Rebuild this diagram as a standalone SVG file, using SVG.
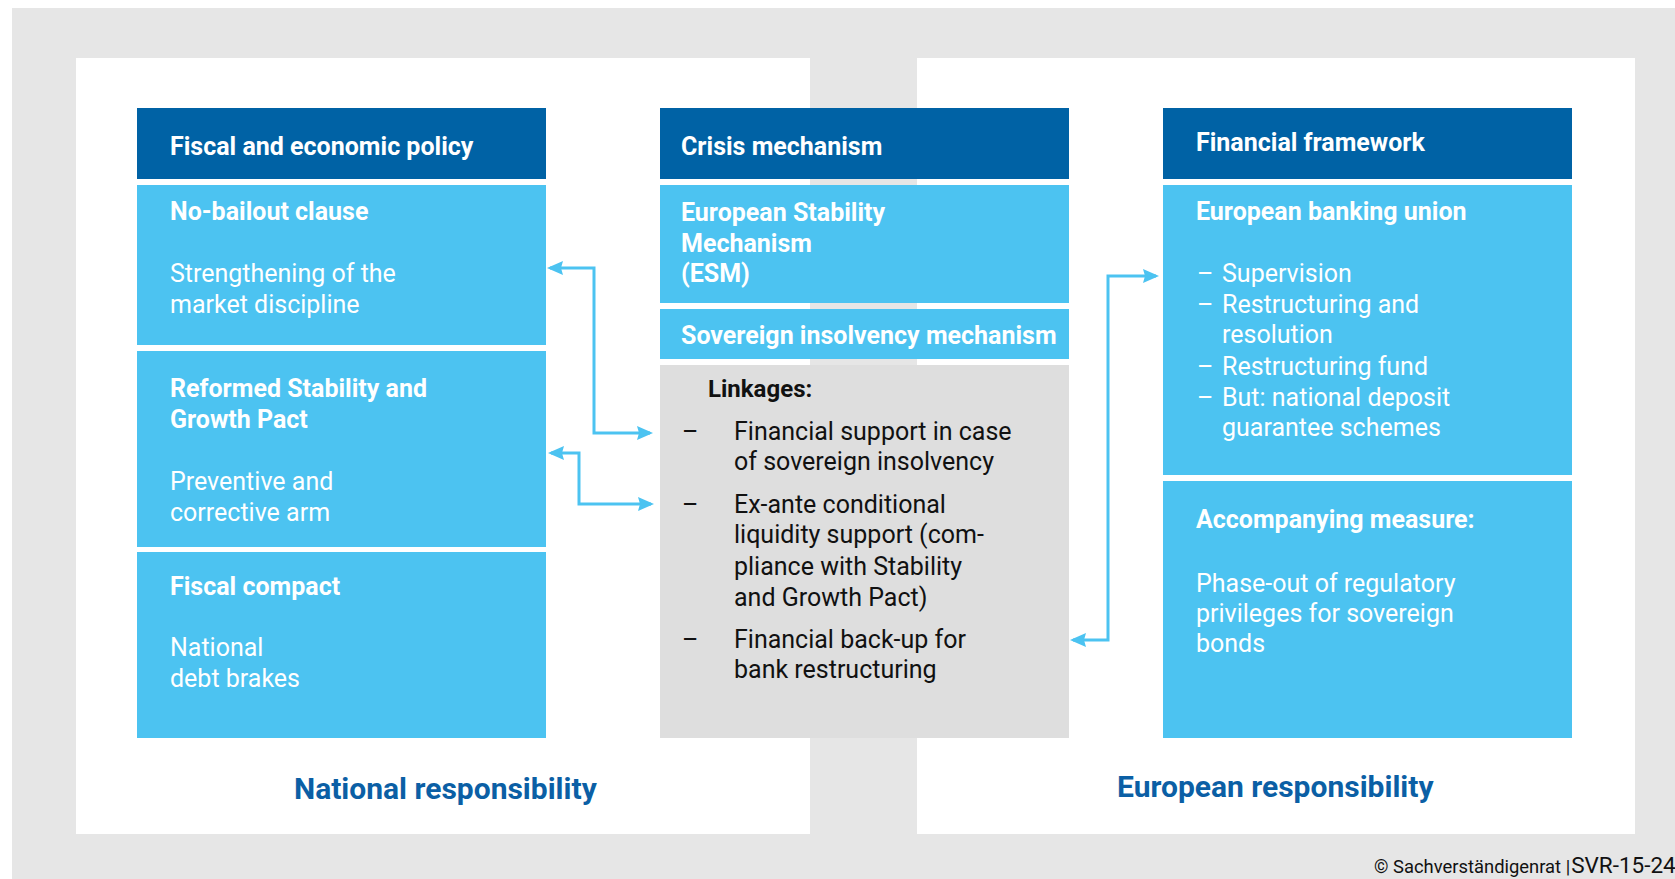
<svg xmlns="http://www.w3.org/2000/svg" width="1675" height="879" viewBox="0 0 1675 879">
  <defs>
    <style>
      .bg { fill: #e6e6e6; }
      .panel { fill: #ffffff; }
      .head { fill: #0062a5; }
      .cell { fill: #4cc3f1; }
      .grey { fill: #dedede; }
      text { font-family: Roboto, "Liberation Sans", sans-serif; }
      .ht { font-size: 25px; font-weight: 700; fill: #ffffff; }
      .st { font-size: 25px; font-weight: 700; fill: #ffffff; }
      .bt { font-size: 25px; font-weight: 400; fill: #ffffff; }
      .lk { font-size: 24px; font-weight: 700; fill: #111111; }
      .dk { font-size: 25px; font-weight: 400; fill: #111111; }
      .resp { font-size: 30px; font-weight: 700; fill: #0b5fa5; }
      .copy { font-size: 18.4px; fill: #111111; }
      .copy2 { font-size: 22.5px; fill: #111111; }
      .link { fill: none; stroke: #4cc3f1; stroke-width: 3; }
    </style>
    <marker id="tip" viewBox="0 0 16 14" markerUnits="userSpaceOnUse" markerWidth="16" markerHeight="14" refX="13" refY="7" orient="auto-start-reverse">
      <path d="M0,0 L16,7 L0,14 L2,7 z" fill="#4cc3f1"/>
    </marker>
  </defs>

  <!-- backdrop and the two responsibility panels -->
  <rect class="bg" x="12" y="8" width="1663" height="871"/>
  <rect class="panel" x="76" y="58" width="734" height="776"/>
  <rect class="panel" x="917" y="58" width="718" height="776"/>

  <!-- national column -->
  <g id="fiscal-policy">
    <rect class="head" x="137" y="108" width="409" height="71"/>
    <text class="ht" x="170" y="155">Fiscal and economic policy</text>
  </g>
  <g id="no-bailout">
    <rect class="cell" x="137" y="185" width="409" height="160"/>
    <text class="st" x="170" y="220">No-bailout clause</text>
    <text class="bt" x="170" y="282">Strengthening of the</text>
    <text class="bt" x="170" y="313">market discipline</text>
  </g>
  <g id="stability-pact">
    <rect class="cell" x="137" y="351" width="409" height="196"/>
    <text class="st" x="170" y="397">Reformed Stability and</text>
    <text class="st" x="170" y="428">Growth Pact</text>
    <text class="bt" x="170" y="490">Preventive and</text>
    <text class="bt" x="170" y="521">corrective arm</text>
  </g>
  <g id="fiscal-compact">
    <rect class="cell" x="137" y="552" width="409" height="186"/>
    <text class="st" x="170" y="595">Fiscal compact</text>
    <text class="bt" x="170" y="656">National</text>
    <text class="bt" x="170" y="687">debt brakes</text>
  </g>

  <!-- crisis mechanism column -->
  <g id="crisis-mechanism">
    <rect class="head" x="660" y="108" width="409" height="71"/>
    <text class="ht" x="681" y="155">Crisis mechanism</text>
  </g>
  <g id="esm">
    <rect class="cell" x="660" y="185" width="409" height="118"/>
    <text class="st" x="681" y="221">European Stability</text>
    <text class="st" x="681" y="252">Mechanism</text>
    <text class="st" x="681" y="282">(ESM)</text>
  </g>
  <g id="sovereign-insolvency">
    <rect class="cell" x="660" y="309" width="409" height="50"/>
    <text class="st" x="681" y="344">Sovereign insolvency mechanism</text>
  </g>
  <g id="linkages">
    <rect class="grey" x="660" y="365" width="409" height="373"/>
    <text class="lk" x="708" y="397">Linkages:</text>
    <text class="dk" x="682" y="440">–</text>
    <text class="dk" x="734" y="440">Financial support in case</text>
    <text class="dk" x="734" y="470">of sovereign insolvency</text>
    <text class="dk" x="682" y="513">–</text>
    <text class="dk" x="734" y="513">Ex-ante conditional</text>
    <text class="dk" x="734" y="543">liquidity support (com-</text>
    <text class="dk" x="734" y="575">pliance with Stability</text>
    <text class="dk" x="734" y="606">and Growth Pact)</text>
    <text class="dk" x="682" y="648">–</text>
    <text class="dk" x="734" y="648">Financial back-up for</text>
    <text class="dk" x="734" y="678">bank restructuring</text>
  </g>

  <!-- European column -->
  <g id="financial-framework">
    <rect class="head" x="1163" y="108" width="409" height="71"/>
    <text class="ht" x="1196" y="151">Financial framework</text>
  </g>
  <g id="banking-union">
    <rect class="cell" x="1163" y="185" width="409" height="290"/>
    <text class="st" x="1196" y="220">European banking union</text>
    <text class="bt" x="1197" y="282">–</text>
    <text class="bt" x="1222" y="282">Supervision</text>
    <text class="bt" x="1197" y="313">–</text>
    <text class="bt" x="1222" y="313">Restructuring and</text>
    <text class="bt" x="1222" y="343">resolution</text>
    <text class="bt" x="1197" y="375">–</text>
    <text class="bt" x="1222" y="375">Restructuring fund</text>
    <text class="bt" x="1197" y="406">–</text>
    <text class="bt" x="1222" y="406">But: national deposit</text>
    <text class="bt" x="1222" y="436">guarantee schemes</text>
  </g>
  <g id="accompanying-measure">
    <rect class="cell" x="1163" y="481" width="409" height="257"/>
    <text class="st" x="1196" y="528">Accompanying measure:</text>
    <text class="bt" x="1196" y="592">Phase-out of regulatory</text>
    <text class="bt" x="1196" y="622">privileges for sovereign</text>
    <text class="bt" x="1196" y="652">bonds</text>
  </g>

  <!-- panel captions -->
  <text class="resp" x="294" y="799">National responsibility</text>
  <text class="resp" x="1117" y="797">European responsibility</text>
  <text x="1374" y="873"><tspan class="copy">© Sachverständigenrat |</tspan><tspan class="copy2" dx="1">SVR-15-24</tspan></text>

  <!-- connectors -->
  <g id="connectors">
    <path class="link" d="M550,268 H594 V433 H650" marker-start="url(#tip)" marker-end="url(#tip)"/>
    <path class="link" d="M551,453 H579 V504 H651" marker-start="url(#tip)" marker-end="url(#tip)"/>
    <path class="link" d="M1156,276 H1108 V640 H1073" marker-start="url(#tip)" marker-end="url(#tip)"/>
  </g>
</svg>
